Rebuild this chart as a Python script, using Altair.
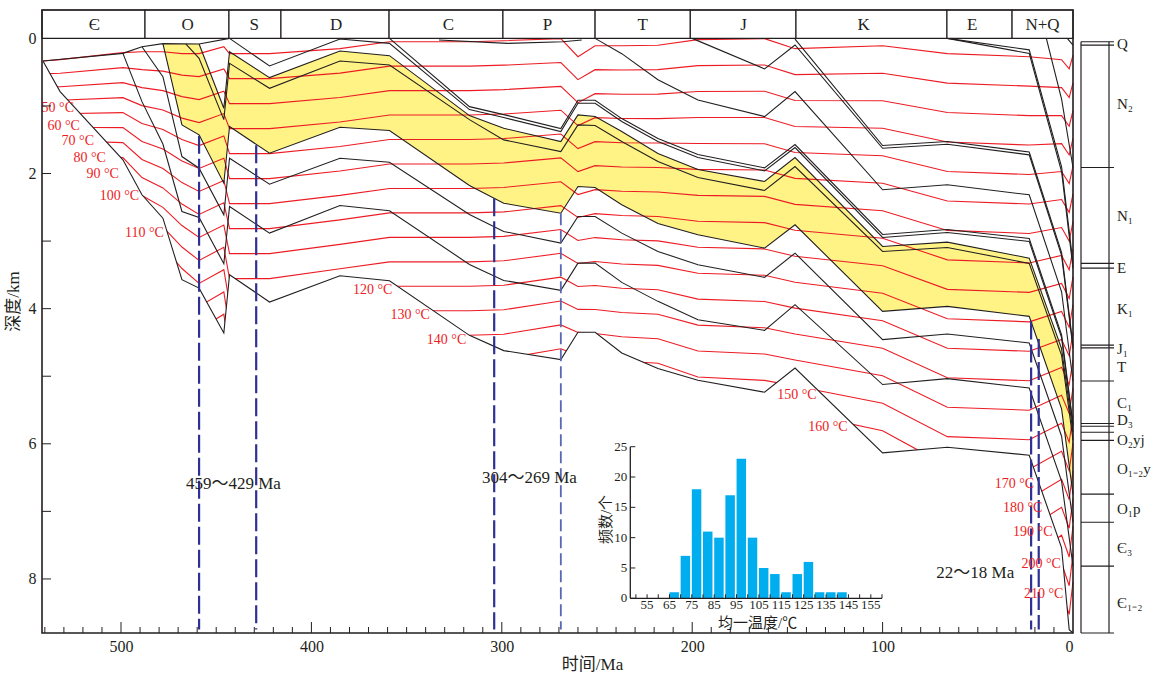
import altair as alt
import pandas as pd

FONT = "Liberation Serif, Noto Sans CJK SC"
INK = "#231f20"
RED = "#ed1c24"
BLUE = "#2e3192"
BLUE2 = "#5a67b4"
YELLOW = "#fff385"
CYAN = "#00aeef"

# ---------------- burial curves (time Ma, depth km) ----------------
H0_t = [541, 532, 499, 489, 478, 468, 459, 446, 443, 422, 385, 359, 317, 299, 269, 260, 251, 237, 218, 197, 162, 146, 100, 66, 23, 6, 2, 0]
H0_d = [0.334, 0.788, 1.797, 2.315, 2.661, 3.571, 3.696, 4.361, 3.497, 3.902, 3.512, 3.586, 4.395, 4.621, 4.754, 4.350, 4.350, 4.656, 4.887, 5.060, 5.237, 4.878, 6.134, 6.050, 6.169, 7.539, 8.750, 8.800]
H1_t = [499, 489, 478, 468, 459, 446, 443, 422, 385, 359, 317, 299, 269, 260, 251, 237, 218, 197, 162, 146, 100, 66, 23, 6, 0]
H1_d = [0.222, 0.936, 1.564, 2.562, 2.650, 3.335, 2.488, 2.882, 2.473, 2.551, 3.345, 3.582, 3.729, 3.326, 3.326, 3.611, 3.892, 4.163, 4.321, 3.941, 5.123, 5.035, 5.174, 6.553, 7.810]
H2_t = [489, 478, 468, 459, 446, 443, 422, 385, 359, 317, 299, 269, 260, 251, 237, 218, 197, 162, 146, 100, 66, 23, 6, 0]
H2_d = [0.123, 0.566, 1.749, 1.922, 2.611, 1.774, 2.158, 1.774, 1.833, 2.606, 2.857, 3.030, 2.636, 2.636, 2.882, 3.153, 3.350, 3.537, 3.178, 4.458, 4.375, 4.508, 5.888, 7.159]
H3_t = [478, 468, 459, 446, 443, 422, 385, 359, 317, 299, 269, 260, 251, 237, 218, 197, 162, 146, 100, 66, 23, 6, 0]
H3_d = [0.078, 1.280, 1.428, 2.143, 1.305, 1.700, 1.316, 1.364, 2.177, 2.439, 2.587, 2.192, 2.207, 2.463, 2.739, 2.906, 3.104, 2.758, 4.040, 3.966, 4.114, 5.483, 6.745]
H4_t = [466, 459, 446, 443, 422, 385, 359, 317, 299, 269, 260, 251, 237, 218, 197, 162, 146, 100, 66, 23, 6, 0]
H4_d = [0.083, 0.296, 1.202, 0.370, 0.739, 0.334, 0.393, 1.202, 1.502, 1.675, 1.280, 1.290, 1.527, 1.823, 2.059, 2.251, 1.897, 3.153, 3.094, 3.330, 4.690, 5.947]
H5_t = [459, 446, 443, 422, 385, 359, 317, 299, 269, 260, 251, 237, 218, 197, 162, 146, 100, 66, 23, 6, 0]
H5_d = [0.083, 1.035, 0.197, 0.581, 0.186, 0.256, 1.143, 1.330, 1.527, 1.132, 1.157, 1.379, 1.704, 1.941, 2.118, 1.763, 3.079, 3.016, 3.252, 4.591, 5.828]
H6_t = [443, 422, 385, 359, 317, 299, 269, 260, 251, 237, 218, 197, 162, 146, 100, 66, 23, 6, 0]
H6_d = [0.000, 0.408, 0.009, 0.074, 1.054, 1.172, 1.379, 0.961, 0.961, 1.231, 1.527, 1.763, 1.960, 1.616, 2.946, 2.872, 3.005, 4.428, 5.740]
H7_t = [359, 317, 299, 269, 260, 251, 237, 218, 197, 162, 146, 100, 66, 23, 6, 0]
H7_d = [0.000, 1.010, 1.128, 1.335, 0.916, 0.916, 1.187, 1.483, 1.719, 1.916, 1.571, 2.902, 2.828, 2.961, 4.389, 5.706]
H8_t = [251, 237, 218, 197, 162, 146, 100, 66, 23, 6, 0]
H8_d = [0.000, 0.226, 0.611, 0.911, 1.157, 0.788, 2.241, 2.167, 2.315, 3.750, 5.075]
H9_t = [200, 162, 146, 100, 66, 23, 6, 0]
H9_d = [0.000, 0.452, 0.098, 1.626, 1.567, 1.724, 3.212, 4.587]
H10_t = [146, 100, 66, 23, 6, 0]
H10_d = [0.012, 1.586, 1.527, 1.682, 3.169, 4.542]
H11_t = [66, 23, 6, 0]
H11_d = [0.000, 0.222, 1.970, 3.404]
H12_t = [66, 23, 6, 0]
H12_d = [0.000, 0.170, 1.900, 3.330]
H13_t = [14, 6, 0]
H13_d = [0.000, 0.900, 1.911]
H14_t = [3, 0]
H14_d = [0.000, 0.100]
TOP_t = [541, 499, 489, 478, 459, 443]
TOP_d = [0.334, 0.222, 0.123, 0.078, 0.083, 0.000]
PTOP_t = [333, 297, 268, 258]
PTOP_d = [0.024, 0.074, 0.049, 0.024]

# yellow reservoir band (upper edge; lower edge is H3)
YEL_t = H3_t
YEL_up = [0.078, 0.078, 0.083, 1.035, 0.197, 0.581, 0.186, 0.256, 1.143, 1.330, 1.527, 1.132, 1.157, 1.379,
          1.704, 1.941, 2.118, 1.763, 3.079, 3.016, 3.252, 4.591, 5.828]

# isotherms: depth of the 20 degC line and spacing per 10 degC at each time node
ISO_t = [541, 532, 499, 489, 478, 468, 459, 446, 443, 422, 385, 359, 317, 299, 269, 260, 251, 237, 218, 197, 162, 146, 100, 66, 23, 6, 2, 0]
ISO_top = [0.334, 0.315, 0.211, 0.197, 0.197, 0.226, 0.226, 0.123, 0.226, 0.226, 0.152, 0.049, 0.049, 0.034, 0.004, 0.271, 0.108, 0.108, 0.101, 0.019, 0.004, 0.152, 0.108, 0.226, 0.271, 0.315, 0.450, 0.250]
ISO_step = [0.192, 0.200, 0.222, 0.266, 0.288, 0.318, 0.340, 0.330, 0.370, 0.370, 0.362, 0.362, 0.362, 0.362, 0.353, 0.340, 0.355, 0.359, 0.362, 0.384, 0.389, 0.384, 0.407, 0.436, 0.436, 0.414, 0.425, 0.410]
ISO_T = [20, 30, 40, 50, 60, 70, 80, 90, 100, 110, 120, 130, 140, 150, 160, 170, 180, 190, 200, 210]

ISO_lab_T = [50, 60, 70, 80, 90, 100, 110, 120, 130, 140, 150, 160, 170, 180, 190, 200, 210]
ISO_lab_t = [533.2, 530.1, 522.7, 516.5, 509.6, 500.8, 487.7, 367.8, 348.1, 329.0, 145.0, 128.7, 30.8, 26.4, 21.1, 16.7, 15.4]
ISO_lab_d = [1.024, 1.290, 1.517, 1.764, 2.010, 2.330, 2.882, 3.730, 4.089, 4.464, 5.280, 5.755, 6.593, 6.957, 7.302, 7.784, 8.228]

# blue dashed marker lines
BL_t = [459, 429, 304, 269, 22, 18]
BL_d0 = [1.44, 1.58, 2.366, 2.587, 4.19, 4.45]
BL_style = ["dark", "dark", "dark", "light", "dark", "dark"]
BL_lab = ["459～429 Ma", "304～269 Ma", "22～18 Ma"]
BL_lab_t = [441.0, 285.5, 51.3]
BL_lab_d = [6.592, 6.513, 7.908]

# geological periods (top band)
PER_lab = ["Є", "O", "S", "D", "C", "P", "T", "J", "K", "E", "N+Q"]
PER_start = [541.5, 487.4, 443.3, 416.0, 359.2, 299.4, 251.0, 201.0, 145.5, 66.2, 32.0]
PER_end = [487.4, 443.3, 416.0, 359.2, 299.4, 251.0, 201.0, 145.5, 66.2, 32.0, 0.0]
PER_lab_t = [514.0, 465.0, 430.0, 387.0, 328.0, 276.0, 226.0, 173.0, 110.0, 53.0, 16.0]

# stratigraphic column
STR_lines = [0.05, 0.10, 1.91, 3.33, 3.40, 4.54, 4.58, 5.07, 5.70, 5.74, 5.83, 5.95, 6.745, 7.16, 7.81, 8.80]
STR_lab = ["Q", "N₂", "N₁", "E", "K₁", "J₁", "T", "C₁", "D₃", "O₂yj", "O₁₋₂y", "O₁p", "Є₃", "Є₁₋₂"]
STR_lab_d = [0.078, 0.965, 2.636, 3.404, 4.010, 4.600, 4.870, 5.395, 5.655, 5.945, 6.380, 6.970, 7.540, 8.350]

# homogenization temperature histogram
HIST_lo = [65, 70, 75, 80, 85, 90, 95, 100, 105, 110, 115, 120, 125, 130, 135, 140]
HIST_n = [1, 7, 18, 11, 10, 17, 23, 10, 5, 4, 1, 4, 6, 1, 1, 1]
HIST_xlab = [55, 65, 75, 85, 95, 105, 115, 125, 135, 145, 155]
HIST_ylab = [0, 5, 10, 15, 20, 25]

# ---------------- tables ----------------
hz_rows = []
for name, tt, dd in [("H0", H0_t, H0_d), ("H1", H1_t, H1_d), ("H2", H2_t, H2_d), ("H3", H3_t, H3_d),
                     ("H4", H4_t, H4_d), ("H5", H5_t, H5_d), ("H6", H6_t, H6_d), ("H7", H7_t, H7_d),
                     ("H8", H8_t, H8_d), ("H9", H9_t, H9_d), ("H10", H10_t, H10_d), ("H11", H11_t, H11_d),
                     ("H12", H12_t, H12_d), ("H13", H13_t, H13_d), ("H14", H14_t, H14_d),
                     ("TOP", TOP_t, TOP_d), ("PTOP", PTOP_t, PTOP_d)]:
    for i, (a, b) in enumerate(zip(tt, dd)):
        hz_rows.append({"id": name, "i": i, "t": a, "d": b})
df_hz = pd.DataFrame(hz_rows)
df_h0 = pd.DataFrame({"t": H0_t, "d": H0_d})
df_yel = pd.DataFrame({"t": YEL_t, "d": YEL_up, "d2": H3_d})

iso_rows = []
for k, T in enumerate(ISO_T):
    for i, (a, top, st) in enumerate(zip(ISO_t, ISO_top, ISO_step)):
        iso_rows.append({"T": T, "i": i, "t": a, "d": top + k * st})
df_iso = pd.DataFrame(iso_rows)
df_isolab = pd.DataFrame({"t": ISO_lab_t, "d": ISO_lab_d, "lab": [f"{v} °C" for v in ISO_lab_T]})

df_bl = pd.DataFrame({"t": BL_t, "d": BL_d0, "d2": [8.75] * len(BL_t), "s": BL_style})
df_bllab = pd.DataFrame({"t": BL_lab_t, "d": BL_lab_d, "lab": BL_lab})
df_per = pd.DataFrame({"t": PER_start, "t2": PER_end})
df_perlab = pd.DataFrame({"t": PER_lab_t, "lab": PER_lab})

df_xt_minor = pd.DataFrame({"t": [v for v in range(10, 541, 10) if v % 100 != 0]})
df_xt_major = pd.DataFrame({"t": [500, 400, 300, 200, 100]})
df_yt = pd.DataFrame({"d": [1, 2, 3, 4, 5, 6, 7, 8]})
df_one = pd.DataFrame({"k": [0]})

# ---------------- main panel ----------------
xs = alt.Scale(domain=[541.5, 0], nice=False, zero=False)
ys = alt.Scale(domain=[-0.42, 8.8], reverse=True, nice=False, zero=False)
xaxis = alt.Axis(values=[500, 400, 300, 200, 100, 0], format="d", title="时间/Ma", ticks=False, domain=False,
                 grid=False, labelFont=FONT, labelFontSize=16, labelColor=INK, labelPadding=5,
                 titleFont=FONT, titleFontSize=17, titleFontWeight="normal", titleColor=INK, titlePadding=2,
                 titleX=550)
yaxis = alt.Axis(values=[0, 2, 4, 6, 8], format="d", title="深度/km", ticks=False, domain=False, grid=False,
                 labelFont=FONT, labelFontSize=16, labelColor=INK, labelPadding=6,
                 titleFont=FONT, titleFontSize=17, titleFontWeight="normal", titleColor=INK, titlePadding=6,
                 titleY=291)


def X(f="t"):
    return alt.X(f"{f}:Q", scale=xs, axis=xaxis)


def Y(f="d"):
    return alt.Y(f"{f}:Q", scale=ys, axis=yaxis)


yellow = alt.Chart(df_yel).mark_area(color=YELLOW, opacity=1).encode(x=X(), y=Y(), y2="d2")
iso = alt.Chart(df_iso).mark_line(color=RED, strokeWidth=1.1).encode(x=X(), y=Y(), detail="T:N", order="i:Q")
mask = alt.Chart(df_h0).mark_area(color="white", opacity=1).encode(x=X(), y=Y(), y2=alt.datum(8.8))
hz = alt.Chart(df_hz).mark_line(color=INK, strokeWidth=1.1).encode(x=X(), y=Y(), detail="id:N", order="i:Q")
bl_dark = alt.Chart(df_bl).transform_filter("datum.s == 'dark'").mark_rule(
    color=BLUE, strokeWidth=2.2, strokeDash=[18, 5]).encode(x=X(), y=Y(), y2="d2")
bl_light = alt.Chart(df_bl).transform_filter("datum.s == 'light'").mark_rule(
    color=BLUE2, strokeWidth=1.8, strokeDash=[12, 5]).encode(x=X(), y=Y(), y2="d2")
per = alt.Chart(df_per).mark_rect(fill="white", stroke=INK, strokeWidth=1.2).encode(
    x=X(), x2="t2", y=alt.datum(-0.42), y2=alt.datum(0))
perlab = alt.Chart(df_perlab).mark_text(font=FONT, fontSize=17, color=INK, baseline="middle").encode(
    x=X(), y=alt.datum(-0.205), text="lab:N")
isolab = alt.Chart(df_isolab).mark_text(font=FONT, fontSize=14, color=RED, baseline="middle").encode(
    x=X(), y=Y(), text="lab:N")
bllab = alt.Chart(df_bllab).mark_text(font=FONT, fontSize=17, color=INK, baseline="middle").encode(
    x=X(), y=Y(), text="lab:N")
xt_minor = alt.Chart(df_xt_minor).mark_rule(color=INK, strokeWidth=1, y2Offset=-6).encode(
    x=X(), y=alt.datum(8.8), y2=alt.datum(8.8))
xt_major = alt.Chart(df_xt_major).mark_rule(color=INK, strokeWidth=1, y2Offset=-11).encode(
    x=X(), y=alt.datum(8.8), y2=alt.datum(8.8))
yt = alt.Chart(df_yt).mark_rule(color=INK, strokeWidth=1, x2Offset=9).encode(
    y=Y(), x=alt.datum(541.5), x2=alt.datum(541.5))
frame = alt.Chart(df_one).mark_rect(fillOpacity=0, stroke=INK, strokeWidth=1.6).encode(
    x=alt.datum(541.5), x2=alt.datum(0), y=alt.datum(-0.42), y2=alt.datum(8.8))

main = alt.layer(yellow, iso, mask, hz, bl_dark, bl_light, per, perlab, isolab, bllab,
                 xt_minor, xt_major, yt, frame)

# ---------------- histogram inset ----------------
hxs = alt.Scale(domain=[47.5, 160], range=[588.3, 840], nice=False, zero=False)
hys = alt.Scale(domain=[0, 25], range=[588.3, 436.7], nice=False, zero=False)


def HX(f="hx"):
    return alt.X(f"{f}:Q", scale=hxs, axis=None)


def HY(f="hy"):
    return alt.Y(f"{f}:Q", scale=hys, axis=None)


df_bar = pd.DataFrame({"hx": HIST_lo, "hx2": [v + 5 for v in HIST_lo], "hy": HIST_n, "hy0": [0] * len(HIST_lo)})
bars = alt.Chart(df_bar).mark_rect(color=CYAN, x2Offset=-1.7).encode(x=HX(), x2="hx2", y=HY(), y2="hy0")
df_hax = pd.DataFrame({"hx": [47.5], "hx2": [160.0], "hy": [0.0], "hy2": [25.0]})
hax_x = alt.Chart(df_hax).mark_rule(color=INK, strokeWidth=1.3).encode(x=HX(), x2="hx2", y=HY())
hax_y = alt.Chart(df_hax).mark_rule(color=INK, strokeWidth=1.3).encode(x=HX(), y=HY(), y2="hy2")
df_hyt = pd.DataFrame({"hx": [47.5] * len(HIST_ylab), "hy": HIST_ylab, "lab": [str(v) for v in HIST_ylab]})
hyt = alt.Chart(df_hyt).mark_rule(color=INK, strokeWidth=1, x2Offset=5).encode(x=HX(), x2="hx", y=HY())
hytl = alt.Chart(df_hyt).mark_text(font=FONT, fontSize=13, color=INK, align="right", baseline="middle", dx=-3).encode(
    x=HX(), y=HY(), text="lab:N")
df_hxt = pd.DataFrame({"hx": list(range(50, 161, 5)), "hy": [0] * len(range(50, 161, 5))})
hxt = alt.Chart(df_hxt).mark_rule(color=INK, strokeWidth=1, y2Offset=-4).encode(x=HX(), y=HY(), y2="hy")
df_hxl = pd.DataFrame({"hx": HIST_xlab, "hy": [0] * len(HIST_xlab), "lab": [str(v) for v in HIST_xlab]})
hxl = alt.Chart(df_hxl).mark_text(font=FONT, fontSize=13, color=INK, align="center", baseline="top", dy=1).encode(
    x=HX(), y=HY(), text="lab:N")
df_htit = pd.DataFrame({"hx": [104.4, 36.7], "hy": [-4.0, 13.0], "lab": ["均一温度/℃", "频数/个"], "ang": [0, 270]})
htx = alt.Chart(df_htit).transform_filter("datum.ang == 0").mark_text(
    font=FONT, fontSize=15, color=INK, baseline="middle").encode(x=HX(), y=HY(), text="lab:N")
hty = alt.Chart(df_htit).transform_filter("datum.ang == 270").mark_text(
    font=FONT, fontSize=15, color=INK, baseline="middle", angle=270).encode(x=HX(), y=HY(), text="lab:N")

hist = alt.layer(bars, hax_x, hax_y, hyt, hytl, hxt, hxl, htx, hty)

# ---------------- stratigraphic column ----------------
sxs = alt.Scale(domain=[0, 34], range=[1039, 1073], nice=False, zero=False)
sys_ = alt.Scale(domain=[-0.42, 8.8], range=[0, 623], nice=False, zero=False)


def SX(f="sx"):
    return alt.X(f"{f}:Q", scale=sxs, axis=None)


def SY(f="sd"):
    return alt.Y(f"{f}:Q", scale=sys_, axis=None)


df_sl = pd.DataFrame({"sx": [0] * len(STR_lines), "sx2": [33] * len(STR_lines), "sd": STR_lines})
s_lines = alt.Chart(df_sl).mark_rule(color=INK, strokeWidth=1.1).encode(x=SX(), x2="sx2", y=SY())
df_sv = pd.DataFrame({"sx": [0, 28], "sd": [0.05, 0.05], "sd2": [8.8, 8.8]})
s_vert = alt.Chart(df_sv).mark_rule(color=INK, strokeWidth=1.2).encode(x=SX(), y=SY(), y2="sd2")
df_slab = pd.DataFrame({"sx": [36] * len(STR_lab), "sd": STR_lab_d, "lab": STR_lab})
s_lab = alt.Chart(df_slab).mark_text(font=FONT, fontSize=15, color=INK, align="left", baseline="middle").encode(
    x=SX(), y=SY(), text="lab:N")

strat = alt.layer(s_lines, s_vert, s_lab)

chart = alt.layer(main, hist, strat).resolve_scale(x="independent", y="independent").properties(
    width=1031, height=623, padding={"left": 4, "top": 9, "right": 0, "bottom": 2},
    background="white").configure_view(stroke=None)

chart.save("out.html", embed_options={"renderer": "svg", "actions": False})
